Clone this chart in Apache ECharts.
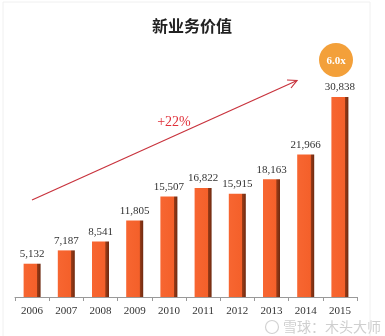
<!DOCTYPE html>
<html><head><meta charset="utf-8">
<script src="https://cdn.jsdelivr.net/npm/echarts@6/dist/echarts.min.js"></script>
<style>html,body{margin:0;padding:0;background:#fff}#c{width:385px;height:336px}</style>
</head><body><div id="c"></div>
<script>
const years = ['2006','2007','2008','2009','2010','2011','2012','2013','2014','2015'];
const values = [5132, 7187, 8541, 11805, 15507, 16822, 15915, 18163, 21966, 30838];
const titleText = '新业务价值';
const growthText = '+22%';
const multipleText = '6.0x';
const watermark = '雪球：木头大师';

const chart = echarts.init(document.getElementById('c'));
const barColor = new echarts.graphic.LinearGradient(0,0,1,0,[
  {offset:0,color:'#F76631'},{offset:0.78,color:'#F4602A'},
  {offset:0.8,color:'#9A3B17'},{offset:1,color:'#6E2A10'}]);
chart.setOption({
  animation:false,
  backgroundColor:'#fff',
  title:{text:titleText,left:187,top:13,textAlign:'center',
    textStyle:{fontFamily:'Noto Sans CJK SC',fontWeight:'bold',fontSize:16,color:'#222'}},
  grid:{left:15,right:28,top:70,bottom:39},
  xAxis:{type:'category',data:years,
    axisLine:{lineStyle:{color:'#999'}},
    axisTick:{show:true,length:4,lineStyle:{color:'#999'}},
    axisLabel:{fontFamily:'Liberation Serif',fontSize:11,color:'#333',margin:9}},
  yAxis:{type:'value',min:0,max:35000,show:false,splitLine:{show:false}},
  series:[{type:'bar',data:values,barWidth:17,
    itemStyle:{color:barColor},
    label:{show:true,position:'top',distance:4,
      fontFamily:'Liberation Serif',fontSize:11,color:'#333',
      formatter:p=>p.value.toLocaleString('en-US')}}],
  graphic:[
    {type:'rect',shape:{x:3,y:2,width:367,height:340},style:{fill:'none',stroke:'#f0f0f0',lineWidth:1},silent:true},
    {type:'line',shape:{x1:32,y1:200,x2:296,y2:81},style:{stroke:'#C8323C',lineWidth:1.2}},
    {type:'polyline',shape:{points:[[287,80],[297,80.5],[291,88]]},style:{stroke:'#C8323C',lineWidth:1.2,fill:'none'}},
    {type:'text',x:174,y:122,style:{text:growthText,fill:'#E0303A',fontFamily:'Liberation Serif',fontSize:14,align:'center',verticalAlign:'middle'}},
    {type:'circle',shape:{cx:336,cy:60,r:17},style:{fill:'#F3A03A'}},
    {type:'text',x:336,y:61,style:{text:multipleText,fill:'#fff',fontFamily:'Liberation Serif',fontWeight:'bold',fontSize:11,align:'center',verticalAlign:'middle'}},
    {type:'circle',shape:{cx:272,cy:327,r:6.5},style:{fill:'none',stroke:'#d2d2d2',lineWidth:1.2}},
    {type:'text',x:283,y:327,style:{text:watermark,fill:'#cfcfcf',fontFamily:'Noto Sans CJK SC',fontSize:14,align:'left',verticalAlign:'middle'}}
  ]
});
</script></body></html>
